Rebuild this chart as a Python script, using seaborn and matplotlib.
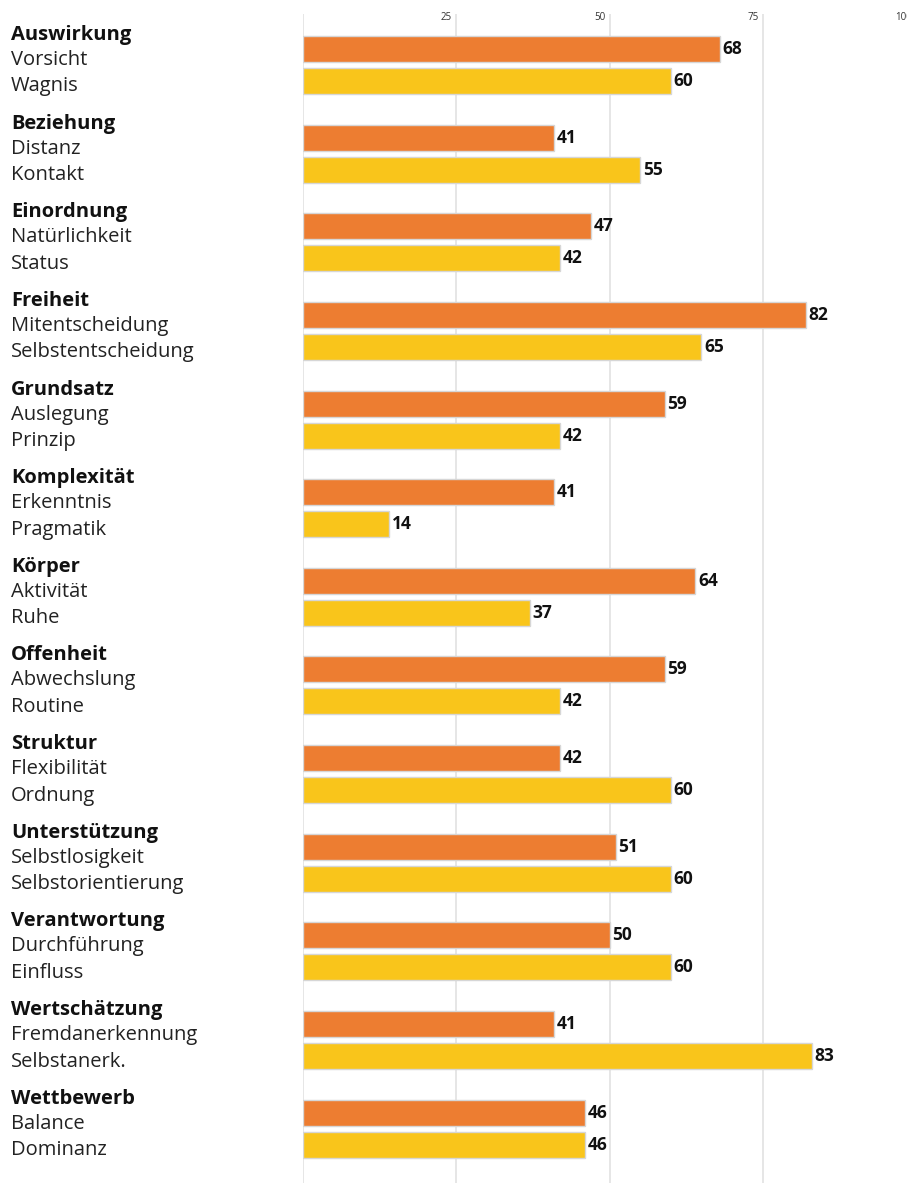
import numpy as np
import pandas as pd
import matplotlib
matplotlib.use("Agg")
import matplotlib.pyplot as plt
import matplotlib.transforms as mtransforms
import seaborn as sns

groups = ["Auswirkung", "Beziehung", "Einordnung", "Freiheit", "Grundsatz",
          "Komplexität", "Körper", "Offenheit", "Struktur", "Unterstützung",
          "Verantwortung", "Wertschätzung", "Wettbewerb"]
labels_a = ["Vorsicht", "Distanz", "Natürlichkeit", "Mitentscheidung", "Auslegung",
            "Erkenntnis", "Aktivität", "Abwechslung", "Flexibilität", "Selbstlosigkeit",
            "Durchführung", "Fremdanerkennung", "Balance"]
labels_b = ["Wagnis", "Kontakt", "Status", "Selbstentscheidung", "Prinzip",
            "Pragmatik", "Ruhe", "Routine", "Ordnung", "Selbstorientierung",
            "Einfluss", "Selbstanerk.", "Dominanz"]
values_a = [68, 41, 47, 82, 59, 41, 64, 59, 42, 51, 50, 41, 46]
values_b = [60, 55, 42, 65, 42, 14, 37, 42, 60, 60, 60, 83, 46]
tick_values = [25, 50, 75, 100]

ORANGE = "#ED7D31"
YELLOW = "#F9C51B"

df = pd.DataFrame({
    "group": groups * 2,
    "series": ["a"] * len(groups) + ["b"] * len(groups),
    "value": values_a + values_b,
})

sns.set_style("white")
plt.rcParams["font.family"] = ["Open Sans", "DejaVu Sans"]

W, H = 907, 1183
fig = plt.figure(figsize=(W / 100, H / 100), dpi=100)
ax_left = 303 / W
ax_width = 613 / W
ax_top_px = 14
ax = fig.add_axes([ax_left, 0, ax_width, (H - ax_top_px) / H])

sns.barplot(data=df, y="group", x="value", hue="series", order=groups,
            hue_order=["a", "b"], palette=[ORANGE, YELLOW], orient="h",
            saturation=1, width=0.722, gap=0.1875, edgecolor="#d6d6d6",
            linewidth=1.0, legend=False, ax=ax, zorder=3)

group_px = 88.64
y_top = (ax_top_px - 65) / group_px
y_bot = (H - 65) / group_px
ax.set_ylim(y_bot, y_top)
ax.set_xlim(0, 100)

ax.set_xticks([0] + tick_values)
ax.tick_params(axis="both", length=0, labelbottom=False, labelleft=False)
ax.grid(axis="x", color="#e4e4e4", linewidth=1.3, zorder=0)
ax.grid(axis="y", visible=False)
for s in ax.spines.values():
    s.set_visible(False)
ax.set_xlabel("")
ax.set_ylabel("")

for cont in ax.containers:
    ax.bar_label(cont, fmt="%d", padding=2, fontsize=12.5, fontweight="bold",
                 color="#111111")

# top tick labels
for t in tick_values:
    ax.text(t - 0.7, (18 - 65) / group_px, str(t), ha="right", va="center",
            fontsize=7, color="#333333")

# left labels
trans = mtransforms.blended_transform_factory(fig.transFigure, ax.transData)
x0 = 11 / W
for i, g in enumerate(groups):
    ax.text(x0, i - 30 / group_px, g, transform=trans, ha="left", va="center",
            fontsize=14.5, fontweight="bold", color="#111111")
    ax.text(x0, i - 5 / group_px, labels_a[i], transform=trans, ha="left",
            va="center", fontsize=14.5, color="#222222")
    ax.text(x0, i + 21.5 / group_px, labels_b[i], transform=trans, ha="left",
            va="center", fontsize=14.5, color="#222222")

fig.savefig("out.png", dpi=100)
